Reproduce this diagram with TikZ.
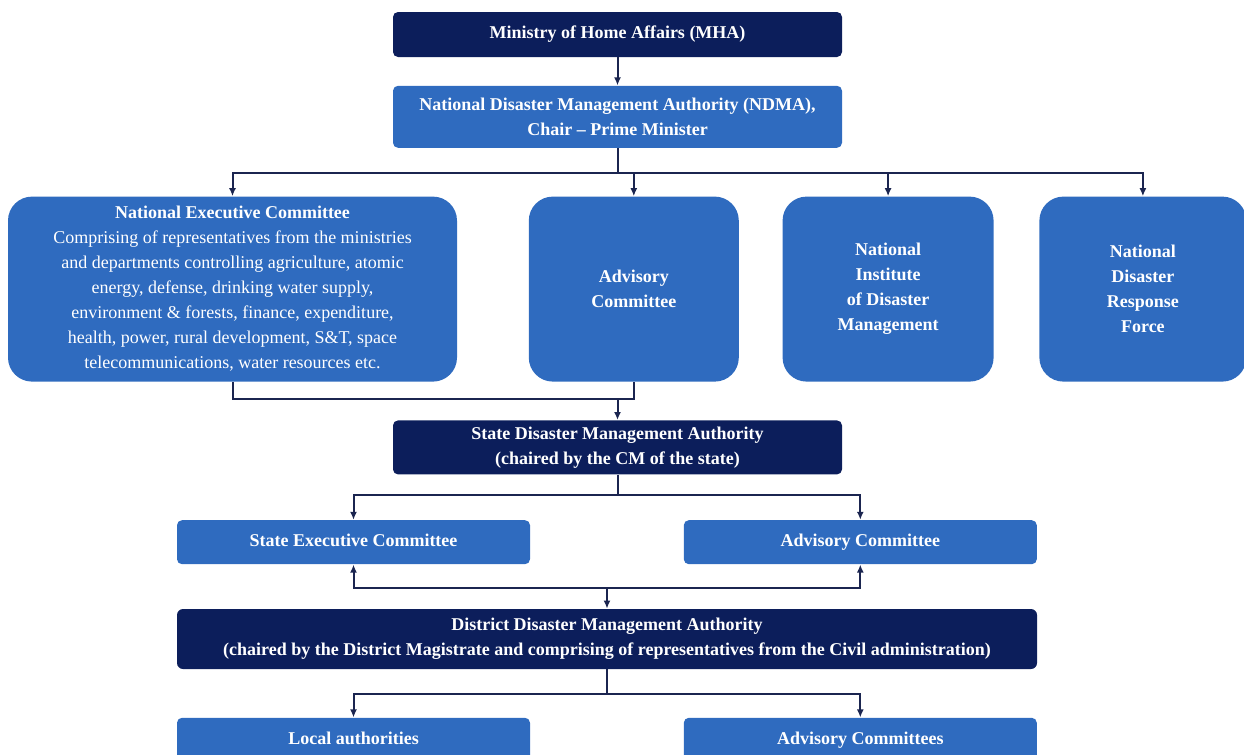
\documentclass[tikz,border=0pt]{standalone}
\usepackage{fontspec}
\setmainfont{Liberation Serif}
\usepackage{xcolor}
\usepackage{tikz}
\usetikzlibrary{arrows.meta,positioning,calc}
\definecolor{darknavy}{HTML}{0C1E5B}
\definecolor{midblue}{HTML}{2F6BBF}
\definecolor{linenavy}{HTML}{1B2550}

\begin{document}
\begin{tikzpicture}[
  head/.style={rectangle, rounded corners=2.5pt, fill=darknavy, text=white, align=center, inner sep=2pt, font=\fontsize{9pt}{12.5pt}\selectfont\bfseries},
  unit/.style={rectangle, rounded corners=2.5pt, fill=midblue, text=white, align=center, inner sep=2pt, font=\fontsize{9pt}{12.5pt}\selectfont\bfseries},
  oneline/.style={unit, minimum width=176.5pt, minimum height=22pt, text height=6.5pt, text depth=2pt},
  panel/.style={unit, rounded corners=12pt, minimum height=92.5pt},
  arrow/.style={-{Latex[length=4pt,width=3.5pt]}, line width=1pt, draw=linenavy},
  link/.style={line width=1pt, draw=linenavy},
  twoway/.style={{Latex[length=4pt,width=3.5pt]}-{Latex[length=4pt,width=3.5pt]}, line width=1pt, draw=linenavy}
]
\useasboundingbox (0,0) rectangle (622pt,-377.5pt);
\node[head, minimum width=224.5pt, minimum height=22.5pt] (mha) at (308.75pt,-17.25pt) {Ministry of Home Affairs (MHA)};
\node[unit, minimum width=224.5pt, minimum height=31pt, below=14pt of mha] (ndma) {National Disaster Management Authority (NDMA),\\Chair -- Prime Minister};
\node[panel, minimum width=224.5pt, below=24pt of ndma, xshift=-192.5pt, font=\fontsize{9pt}{12.5pt}\selectfont] (nec) {\textbf{National Executive Committee}\\Comprising of representatives from the ministries\\and departments controlling agriculture, atomic\\energy, defense, drinking water supply,\\environment \& forests, finance, expenditure,\\health, power, rural development, S\&T, space\\telecommunications, water resources etc.};
\node[panel, minimum width=105pt, right=35.5pt of nec] (adv) {Advisory\\Committee};
\node[panel, minimum width=105.5pt, right=21.5pt of adv] (nidm) {National\\Institute\\of Disaster\\Management};
\node[panel, minimum width=103.5pt, right=22.5pt of nidm] (ndrf) {National\\Disaster\\Response\\Force};
\coordinate (mrg) at (ndma.south|-{$(nec.south)+(0,-8.5pt)$});
\node[head, minimum width=224.5pt, minimum height=27pt, below=10.5pt of mrg] (sdma) {State Disaster Management Authority\\(chaired by the CM of the state)};
\node[oneline, below=22.5pt of sdma, xshift=-132pt] (sec) {State Executive Committee};
\node[oneline, right=76.5pt of sec] (sadv) {Advisory Committee};
\node[head, rounded corners=3pt, minimum width=430pt, minimum height=30pt, below=22pt of sec.south west, anchor=north west] (ddma) {District Disaster Management Authority\\(chaired by the District Magistrate and comprising of representatives from the Civil administration)};
\node[oneline, below=24pt of ddma.south west, anchor=north west] (local) {Local authorities};
\node[oneline, right=76.5pt of local] (dadv) {Advisory Committees};
\coordinate (bus1) at ($(ndma.south)+(0,-12.5pt)$);
\coordinate (bus2) at ($(sdma.south)+(0,-10pt)$);
\coordinate (bus3) at ($(ddma.north)+(0,10.5pt)$);
\coordinate (bus4) at ($(ddma.south)+(0,-12.5pt)$);
\draw[arrow] (mha) -- (ndma);
\draw[arrow] (ndma.south) -- (bus1) -| (nec.north);
\draw[arrow] (bus1) -| (adv.north);
\draw[arrow] (bus1) -| (nidm.north);
\draw[arrow] (bus1) -| (ndrf.north);
\draw[link] (nec.south) |- (mrg);
\draw[link] (adv.south) |- (mrg);
\draw[arrow] (mrg) -- (sdma);
\draw[arrow] (sdma.south) -- (bus2) -| (sec.north);
\draw[arrow] (bus2) -| (sadv.north);
\draw[twoway] (sec.south) |- (bus3) -| (sadv.south);
\draw[arrow] (bus3) -- (ddma);
\draw[arrow] (ddma.south) -- (bus4) -| (local.north);
\draw[arrow] (bus4) -| (dadv.north);
\end{tikzpicture}
\end{document}
